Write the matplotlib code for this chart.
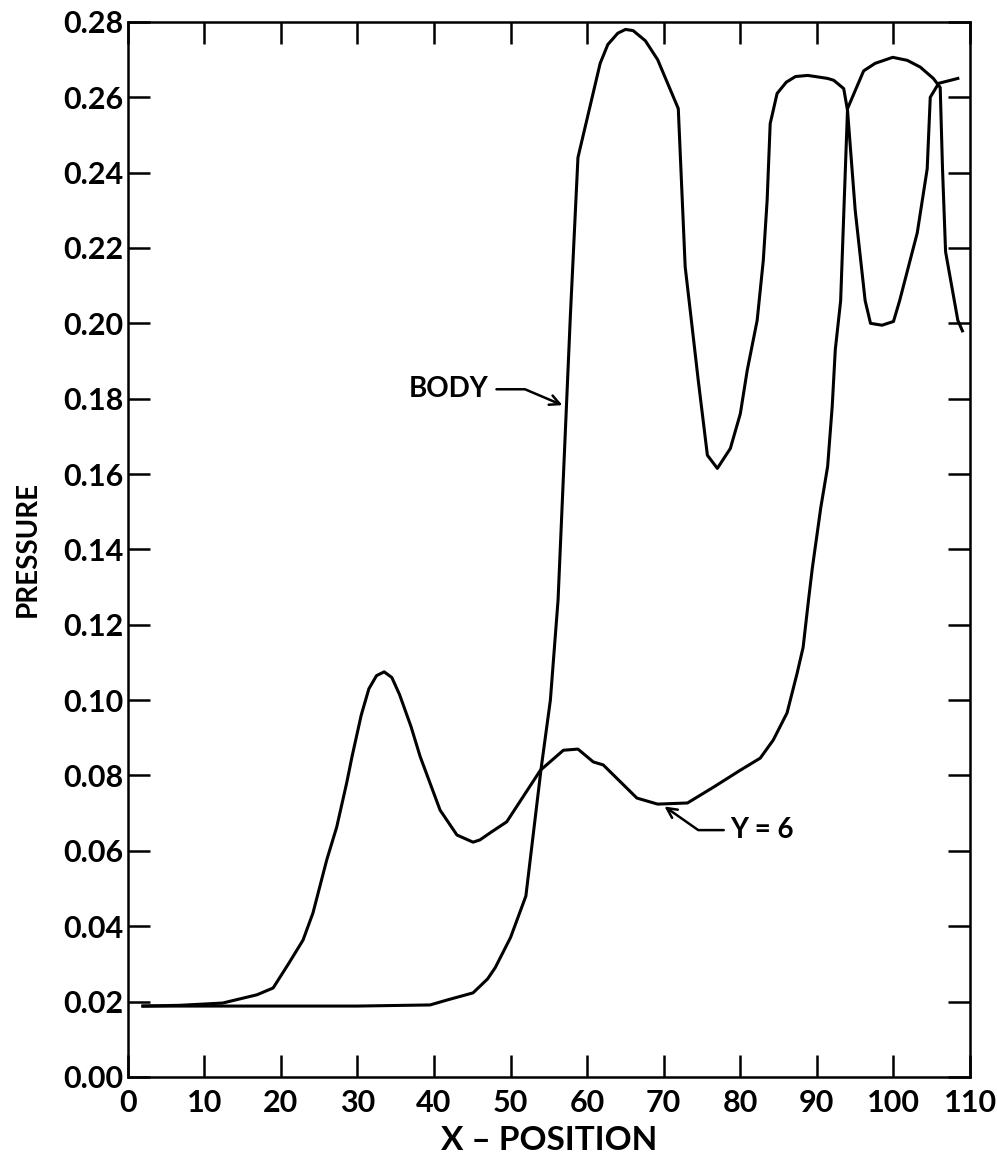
import matplotlib.pyplot as plt

# BODY curve
body_x = [2, 10, 20, 30, 39.5, 41.7, 45.1, 47, 48, 50, 52, 53, 54, 55.2, 56.2, 57.8,
          58.8, 61.7, 62.7, 64, 65, 66, 67.6, 69.2, 71.9, 72.2, 72.8, 73.5, 74.5,
          75.7, 77, 78.7, 80, 80.9, 82.2, 83, 83.5, 83.9, 84.8, 86, 87.2, 88.8,
          91.4, 92.2, 93.5, 94, 95, 96.3, 97, 98.5, 100, 100.8, 103.1, 104.4,
          104.8, 105.9, 108.4]
body_p = [0.0188, 0.0188, 0.0188, 0.0188, 0.0191, 0.0204, 0.0223, 0.026, 0.029,
          0.037, 0.048, 0.065, 0.082, 0.100, 0.1265, 0.2016, 0.244, 0.269, 0.274,
          0.277, 0.278, 0.2777, 0.275, 0.270, 0.257, 0.243, 0.215, 0.2027, 0.185,
          0.165, 0.1615, 0.1668, 0.176, 0.1875, 0.2008, 0.2167, 0.2326, 0.253,
          0.261, 0.264, 0.2655, 0.2658, 0.265, 0.2645, 0.2623, 0.2565, 0.230,
          0.206, 0.200, 0.1995, 0.2005, 0.206, 0.224, 0.241, 0.260, 0.2637, 0.265]

# Y = 6 curve
y6_x = [2, 6.8, 12.4, 16.9, 19, 21, 22.9, 24.2, 26, 27.3, 28.6, 29.3, 30.5, 31.5,
        32.5, 33.5, 34.5, 35.5, 37, 38.2, 40.8, 43, 45.1, 46, 47.5, 49.5, 53.9,
        56.9, 58.8, 60.8, 62.1, 66.5, 69.2, 73.1, 76.5, 80, 82.6, 84.3, 86.1,
        87.4, 88.2, 88.9, 89.4, 90.5, 91.4, 92, 92.4, 93.1, 94, 96.1, 97.6, 99.9,
        101.8, 103.5, 105.2, 106.1, 106.4, 106.8, 108.4, 109]
y6_p = [0.0188, 0.019, 0.0196, 0.0218, 0.0236, 0.030, 0.0363, 0.0435, 0.0576,
        0.0663, 0.078, 0.085, 0.096, 0.103, 0.1065, 0.1075, 0.106, 0.1015, 0.093,
        0.085, 0.0708, 0.0642, 0.0623, 0.0629, 0.065, 0.0677, 0.0814, 0.0867,
        0.087, 0.0836, 0.0828, 0.074, 0.0724, 0.0727, 0.0769, 0.0814, 0.0846,
        0.0894, 0.0966, 0.107, 0.114, 0.1265, 0.135, 0.151, 0.162, 0.178, 0.193,
        0.206, 0.257, 0.267, 0.269, 0.2706, 0.2698, 0.268, 0.265, 0.2626, 0.241,
        0.219, 0.2008, 0.198]

x_ticks = [0, 10, 20, 30, 40, 50, 60, 70, 80, 90, 100, 110]
y_ticks = [0.00, 0.02, 0.04, 0.06, 0.08, 0.10, 0.12, 0.14, 0.16, 0.18, 0.20,
           0.22, 0.24, 0.26, 0.28]

plt.rcParams['font.family'] = ['Lato', 'DejaVu Sans']
plt.rcParams['font.weight'] = 'bold'

fig = plt.figure(figsize=(9.97, 11.53), dpi=100)
ax = fig.add_axes([0.128, 0.066, 0.845, 0.915])

ax.plot(body_x, body_p, color='black', lw=2.2)
ax.plot(y6_x, y6_p, color='black', lw=2.2)

ax.set_xlim(0, 110)
ax.set_ylim(0, 0.28)
ax.set_xticks(x_ticks)
ax.set_yticks(y_ticks)
ax.set_yticklabels(['%.2f' % v for v in y_ticks])
ax.tick_params(direction='in', length=16, width=1.8, top=True, right=True,
               labelsize=22)
ax.tick_params(axis='y', pad=3)
ax.tick_params(axis='x', pad=9)
for s in ax.spines.values():
    s.set_linewidth(1.8)

ax.set_xlabel('X \u2013 POSITION', fontsize=24, fontweight='bold', labelpad=6)
ax.set_ylabel('PRESSURE', fontsize=20, fontweight='bold', labelpad=16)

# labels with arrows
ax.text(47.1, 0.1825, 'BODY', fontsize=20, fontweight='bold', ha='right', va='center')
ax.annotate('', xy=(57.1, 0.178), xytext=(47.8, 0.1825),
            arrowprops=dict(arrowstyle='->', lw=1.8, mutation_scale=18,
                            connectionstyle='angle,angleA=0,angleB=-23,rad=0'))
ax.text(78.7, 0.0655, 'Y = 6', fontsize=20, fontweight='bold', ha='left', va='center')
ax.annotate('', xy=(69.8, 0.0722), xytext=(78.2, 0.0655),
            arrowprops=dict(arrowstyle='->', lw=1.8, mutation_scale=18,
                            connectionstyle='angle,angleA=0,angleB=-35,rad=0'))

plt.savefig('out.png', dpi=100)
